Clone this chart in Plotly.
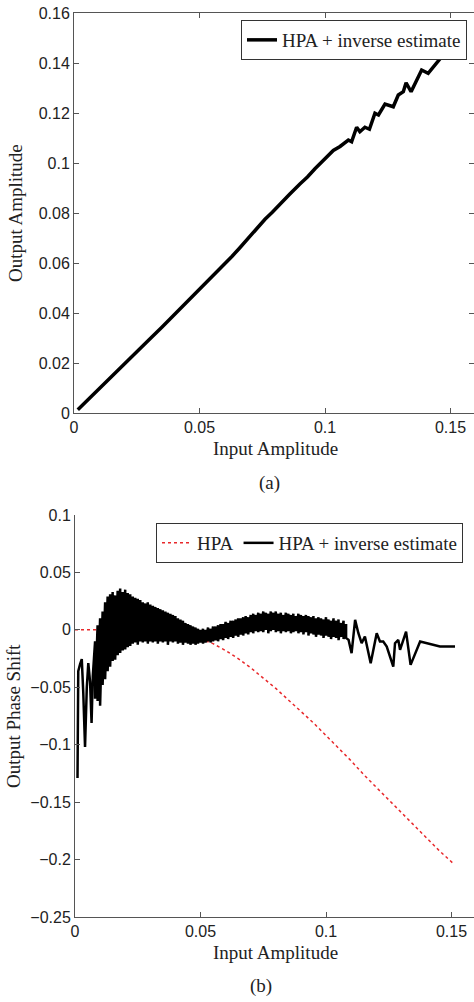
import plotly.graph_objects as go

# ---------------- (a) AM/AM: HPA + inverse estimate ----------------
amp_in = [0.0015, 0.005, 0.010, 0.015, 0.020, 0.025, 0.030, 0.035, 0.040, 0.045,
          0.050, 0.055, 0.060, 0.063, 0.066, 0.069, 0.072, 0.0761, 0.0790, 0.0834,
          0.0860, 0.0900, 0.0930, 0.0960, 0.0993, 0.1033, 0.1060, 0.1093, 0.1106,
          0.1126, 0.1139, 0.1159, 0.1177, 0.1199, 0.1213, 0.1239, 0.1272, 0.1292,
          0.1312, 0.1323, 0.1343, 0.1385, 0.1411, 0.1471, 0.1518, 0.1526]
amp_out = [0.0013, 0.0048, 0.0098, 0.0147, 0.0196, 0.0245, 0.0294, 0.0343, 0.0393, 0.0443,
           0.0493, 0.0543, 0.0594, 0.0627, 0.0660, 0.0694, 0.0730, 0.0775, 0.0803, 0.0851,
           0.0876, 0.0916, 0.0944, 0.0977, 0.1012, 0.1050, 0.1066, 0.1092, 0.1085,
           0.1143, 0.1125, 0.1143, 0.1135, 0.1199, 0.1192, 0.1236, 0.1225, 0.1272,
           0.1285, 0.1321, 0.1285, 0.1372, 0.1359, 0.1432, 0.1452, 0.1464]

# ---------------- (b) AM/PM ----------------
hpa_in = [0.000, 0.010, 0.020, 0.030, 0.040, 0.045, 0.050, 0.055, 0.060, 0.065,
          0.070, 0.075, 0.080, 0.085, 0.090, 0.095, 0.100, 0.105, 0.110, 0.115,
          0.120, 0.125, 0.130, 0.135, 0.140, 0.145, 0.1505]
hpa_phase = [0.000, 0.000, 0.000, -0.001, -0.003, -0.005, -0.008, -0.012, -0.018, -0.025,
             -0.033, -0.042, -0.051, -0.061, -0.071, -0.081, -0.092, -0.103, -0.114, -0.126,
             -0.137, -0.148, -0.159, -0.170, -0.181, -0.192, -0.203]

inv_start_in = [0.0010, 0.0011, 0.0013, 0.0020, 0.0027, 0.0033, 0.0040, 0.0047,
                0.0053, 0.0060, 0.0066, 0.0071, 0.0075]
inv_start_phase = [-0.129, -0.090, -0.036, -0.030, -0.0255, -0.055, -0.102, -0.050,
                   -0.029, -0.045, -0.081, -0.040, -0.020]

band_in = [0.008, 0.009, 0.010, 0.011, 0.012, 0.013, 0.014, 0.015, 0.016, 0.017,
           0.018, 0.019, 0.020, 0.021, 0.022, 0.023, 0.024, 0.025, 0.026, 0.027,
           0.028, 0.029, 0.030, 0.031, 0.032, 0.033, 0.034, 0.035, 0.036, 0.037,
           0.038, 0.039, 0.040, 0.041, 0.042, 0.043, 0.044, 0.045, 0.046, 0.047,
           0.048, 0.049, 0.050, 0.051, 0.052, 0.053, 0.054, 0.055, 0.056, 0.057,
           0.058, 0.059, 0.060, 0.061, 0.062, 0.063, 0.064, 0.065, 0.066, 0.067,
           0.068, 0.069, 0.070, 0.071, 0.072, 0.073, 0.074, 0.075, 0.076, 0.077,
           0.078, 0.079, 0.080, 0.081, 0.082, 0.083, 0.084, 0.085, 0.086, 0.087,
           0.088, 0.089, 0.090, 0.091, 0.092, 0.093, 0.094, 0.095, 0.096, 0.097,
           0.098, 0.099, 0.100, 0.101, 0.102, 0.103, 0.104, 0.105, 0.106, 0.107,
           0.108]
band_hi = [-0.010, 0.004, 0.010, 0.016, 0.024, 0.029, 0.031, 0.033, 0.030, 0.034,
           0.036, 0.033, 0.035, 0.032, 0.031, 0.029, 0.028, 0.027, 0.026, 0.024,
           0.023, 0.024, 0.022, 0.021, 0.020, 0.019, 0.018, 0.017, 0.016, 0.015,
           0.014, 0.013, 0.012, 0.010, 0.009, 0.008, 0.006, 0.005, 0.004, 0.003,
           0.002, 0.001, 0.000, 0.001, 0.000, 0.002, 0.001, 0.003, 0.003, 0.004,
           0.005, 0.005, 0.007, 0.006, 0.008, 0.008, 0.009, 0.010, 0.010, 0.011,
           0.012, 0.011, 0.013, 0.014, 0.013, 0.015, 0.014, 0.016, 0.015, 0.014,
           0.016, 0.015, 0.016, 0.014, 0.015, 0.013, 0.015, 0.014, 0.013, 0.014,
           0.012, 0.014, 0.013, 0.012, 0.013, 0.012, 0.011, 0.012, 0.010, 0.011,
           0.010, 0.009, 0.011, 0.009, 0.008, 0.010, 0.008, 0.009, 0.006, 0.008,
           0.005]
band_lo = [-0.060, -0.062, -0.066, -0.048, -0.043, -0.036, -0.032, -0.027, -0.026, -0.022,
           -0.020, -0.018, -0.017, -0.015, -0.014, -0.012, -0.011, -0.013, -0.010, -0.011,
           -0.010, -0.012, -0.010, -0.011, -0.010, -0.012, -0.010, -0.011, -0.010, -0.013,
           -0.010, -0.011, -0.010, -0.012, -0.011, -0.013, -0.011, -0.012, -0.013, -0.012,
           -0.013, -0.012, -0.011, -0.012, -0.011, -0.010, -0.011, -0.010, -0.009, -0.010,
           -0.008, -0.009, -0.007, -0.008, -0.006, -0.007, -0.005, -0.006, -0.004, -0.005,
           -0.003, -0.004, -0.002, -0.003, -0.001, -0.002, -0.001, -0.002, 0.000, -0.003,
           -0.001, 0.000, -0.002, -0.001, -0.003, -0.001, -0.002, -0.001, -0.003, -0.002,
           -0.001, -0.003, -0.002, -0.004, -0.002, -0.005, -0.003, -0.004, -0.006, -0.004,
           -0.005, -0.007, -0.005, -0.006, -0.008, -0.006, -0.007, -0.009, -0.006, -0.008,
           -0.007]

inv_tail_in = [0.1090, 0.1102, 0.1116, 0.1129, 0.1142, 0.1155, 0.1178, 0.1202, 0.1215,
               0.1228, 0.1242, 0.1268, 0.1275, 0.1288, 0.1295, 0.1319, 0.1337, 0.1375,
               0.1454, 0.1514]
inv_tail_phase = [-0.0087, -0.0203, 0.0087, -0.0029, -0.0116, -0.0058, -0.0290, -0.0029,
                  -0.0102, -0.0102, -0.0145, -0.0320, -0.0116, -0.0087, -0.0174, -0.0015,
                  -0.0305, -0.0102, -0.0145, -0.0145]

x_ticks = [0, 0.05, 0.1, 0.15]
amp_ticks = [0, 0.02, 0.04, 0.06, 0.08, 0.1, 0.12, 0.14, 0.16]
phase_ticks = [-0.25, -0.2, -0.15, -0.1, -0.05, 0, 0.05, 0.1]

# assemble the inverse-estimate phase trace from its pieces
inv_x = list(inv_start_in)
inv_y = list(inv_start_phase)
for xv, hi, lo in zip(band_in, band_hi, band_lo):
    inv_x += [xv, xv]
    inv_y += [hi, lo]
inv_x += inv_tail_in
inv_y += inv_tail_phase

W, H = 474, 1002
SANS = "Liberation Sans, Arial, sans-serif"
SERIF = "Liberation Serif, Times New Roman, serif"
AX = "#555555"
TXT = "#222222"

fig = go.Figure()
fig.add_trace(go.Scatter(x=amp_in, y=amp_out, mode="lines", name="HPA + inverse estimate",
                         line=dict(color="black", width=3.5), xaxis="x", yaxis="y",
                         legend="legend"))
fig.add_trace(go.Scatter(x=hpa_in, y=hpa_phase, mode="lines", name="HPA",
                         line=dict(color="#e8282b", width=1.5, dash="dot"),
                         xaxis="x2", yaxis="y2", legend="legend2"))
fig.add_trace(go.Scatter(x=inv_x, y=inv_y, mode="lines", name="HPA + inverse estimate",
                         line=dict(color="black", width=2.5), xaxis="x2", yaxis="y2",
                         legend="legend2"))

common = dict(showgrid=False, zeroline=False, showline=True, linecolor=AX, linewidth=1,
              ticks="inside", ticklen=5, tickcolor=AX, tickwidth=1,
              tickfont=dict(family=SANS, size=16, color=TXT), automargin=False)

fig.update_layout(
    width=W, height=H,
    margin=dict(l=0, r=0, t=0, b=0),
    paper_bgcolor="white", plot_bgcolor="white",
    xaxis=dict(domain=[74 / W, 1], range=[0, 400 / 2510], anchor="y",
               tickvals=x_ticks, mirror="ticks", **common),
    yaxis=dict(domain=[1 - 413 / H, 1 - 13 / H], range=[0, 0.16], anchor="x",
               tickvals=amp_ticks, mirror="ticks", **common),
    xaxis2=dict(domain=[75 / W, 1], range=[0, 399 / 2510], anchor="y2",
                tickvals=x_ticks, **common),
    yaxis2=dict(domain=[1 - 917 / H, 1 - 515 / H], range=[-0.25, 0.1], anchor="x2",
                tickvals=phase_ticks, **common),
    legend=dict(x=467 / W, y=1 - 20 / H, xanchor="right", yanchor="top",
                bgcolor="white", bordercolor="#333333", borderwidth=1,
                font=dict(family=SERIF, size=19, color=TXT), orientation="v",
                tracegroupgap=0),
    legend2=dict(x=463 / W, y=1 - 523 / H, xanchor="right", yanchor="top",
                 bgcolor="white", bordercolor="#333333", borderwidth=1,
                 font=dict(family=SERIF, size=19, color=TXT), orientation="h"),
    showlegend=True,
)

def label(text, x, y, angle=0):
    fig.add_annotation(text=text, x=x / W, y=1 - y / H, xref="paper", yref="paper",
                       xanchor="center", yanchor="middle", showarrow=False,
                       textangle=angle, font=dict(family=SERIF, size=19, color=TXT))

label("Input Amplitude", 275, 448)
label("(a)", 269, 483)
label("Output Amplitude", 16, 213, -90)
label("Input Amplitude", 275, 952)
label("(b)", 261, 986)
label("Output Phase Shift", 13, 716, -90)

fig.write_html(
    "out.html",
    config={"displayModeBar": False},
    post_script="document.body.style.margin='0';document.body.style.overflow='hidden';",
)
